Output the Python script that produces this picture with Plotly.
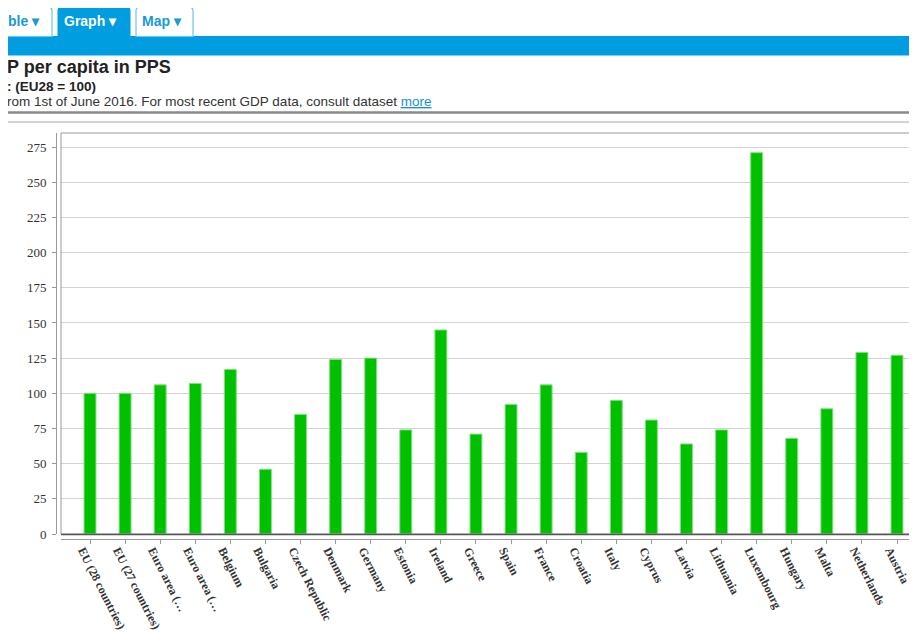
import plotly.graph_objects as go

# ---------------- data ----------------
categories = ["EU (28 countries)", "EU (27 countries)", "Euro area (…", "Euro area (…",
              "Belgium", "Bulgaria", "Czech Republic", "Denmark", "Germany", "Estonia",
              "Ireland", "Greece", "Spain", "France", "Croatia", "Italy", "Cyprus",
              "Latvia", "Lithuania", "Luxembourg", "Hungary", "Malta", "Netherlands", "Austria"]
values = [100, 100, 106, 107, 117, 46, 85, 124, 125, 74, 145, 71, 92, 106, 58, 95, 81,
          64, 74, 271, 68, 89, 129, 127]
y_ticks = [0, 25, 50, 75, 100, 125, 150, 175, 200, 225, 250, 275]

# ---------------- geometry helpers (screen pixels -> paper) ----------------
OFF = 8                      # page body margin
W, H = 917, 640 - OFF
L, R, T, B = 56 - OFF, 0, 133 - OFF, 101
PW, PH = W - L - R, H - T - B


def px(x):
    return (x - OFF - L) / PW


def py(y):
    return (H - B - (y - OFF)) / PH


BLUE = "#009de0"
TAB_BORDER = "#6cc6ee"

x_idx = list(range(len(categories)))

fig = go.Figure()
fig.add_trace(go.Bar(
    x=x_idx, y=values,
    width=0.34,
    marker=dict(color="#00c000", line=dict(color="#80e080", width=1)),
    hoverinfo="y",
))

shapes = []
# plot frame
shapes.append(dict(type="rect", xref="paper", yref="paper",
                   x0=px(61), x1=px(940), y0=py(534), y1=py(133),
                   line=dict(color="#999999", width=1), fillcolor="rgba(0,0,0,0)", layer="above"))
shapes.append(dict(type="line", xref="paper", yref="paper",
                   x0=px(61), x1=px(940), y0=py(534.5), y1=py(534.5),
                   line=dict(color="#555555", width=1.5), layer="above"))
# separators above chart
shapes.append(dict(type="line", xref="paper", yref="paper",
                   x0=px(0), x1=px(940), y0=py(112.5), y1=py(112.5),
                   line=dict(color="#8a8a8a", width=2.5)))
shapes.append(dict(type="line", xref="paper", yref="paper",
                   x0=px(0), x1=px(940), y0=py(122), y1=py(122),
                   line=dict(color="#a8a8a8", width=1)))
# blue band
shapes.append(dict(type="rect", xref="paper", yref="paper",
                   x0=px(0), x1=px(940), y0=py(55.5), y1=py(36),
                   line=dict(width=0), fillcolor=BLUE))


def tab_path(x0, x1, y0, y1, r=4):
    pts = [
        f"M {px(x0)},{py(y1)}",
        f"L {px(x0)},{py(y0 + r)}",
        f"Q {px(x0)},{py(y0)} {px(x0 + r)},{py(y0)}",
        f"L {px(x1 - r)},{py(y0)}",
        f"Q {px(x1)},{py(y0)} {px(x1)},{py(y0 + r)}",
        f"L {px(x1)},{py(y1)}",
    ]
    return " ".join(pts)


# "Table" tab (clipped on the left)
shapes.append(dict(type="path", xref="paper", yref="paper",
                   path=tab_path(-30, 52, 7, 36.5) + " Z",
                   line=dict(color=TAB_BORDER, width=1.2), fillcolor="white"))
# "Graph" tab (active)
shapes.append(dict(type="path", xref="paper", yref="paper",
                   path=tab_path(58, 130, 6, 37) + " Z",
                   line=dict(color=BLUE, width=1), fillcolor=BLUE))
# "Map" tab
shapes.append(dict(type="path", xref="paper", yref="paper",
                   path=tab_path(136, 193, 7, 36.5) + " Z",
                   line=dict(color=TAB_BORDER, width=1.2), fillcolor="white"))

SANS = "Arial, Liberation Sans, sans-serif"
annotations = []


def note(text, x, y, size, color="#333333", bold=False, xanchor="left"):
    annotations.append(dict(
        text=text, xref="paper", yref="paper", x=px(x), y=py(y),
        xanchor=xanchor, yanchor="middle", showarrow=False,
        font=dict(family=SANS, size=size, color=color, weight="bold" if bold else "normal"),
    ))


note("ble ▾", 6, 21, 14, color="#1a9ad6", bold=True)
note("Graph ▾", 62, 21, 14, color="white", bold=True)
note("Map ▾", 140, 21, 14, color="#1a9ad6", bold=True)
note("P per capita in PPS", 5, 67, 18, color="#222222", bold=True)
note(": (EU28 = 100)", 5, 86, 13.5, color="#222222", bold=True)
note("rom 1st of June 2016. For most recent GDP data, consult dataset "
     "<a href='#' style='color:#1a8fd0'><u>more</u></a>", 5, 101, 13.5, color="#333333")

SERIF = "Times New Roman, Liberation Serif, serif"
step = (897 - 90) / 23.0
x_lo = -(90 - 61) / step
x_hi = 23 + ((OFF + W) - 897) / step

fig.update_layout(
    width=W, height=H,
    margin=dict(l=L, r=R, t=T, b=B, pad=0),
    paper_bgcolor="white", plot_bgcolor="white",
    showlegend=False,
    shapes=shapes,
    annotations=annotations,
    xaxis=dict(
        domain=[px(61), 1], range=[x_lo, x_hi],
        anchor="free", position=0,
        tickmode="array", tickvals=x_idx, ticktext=categories,
        tickangle=63,
        tickfont=dict(family=SERIF, size=12, color="#333333", weight="bold"),
        ticklabelstandoff=-5,
        ticklabelshift=-7,
        ticklabeloverflow="allow",
        showline=True, linecolor="#999999", linewidth=1,
        ticks="outside", ticklen=4, tickcolor="#999999",
        showgrid=False, zeroline=False, fixedrange=True,
    ),
    yaxis=dict(
        domain=[py(534), 1], range=[0, 285],
        anchor="free", position=0,
        tickmode="array", tickvals=y_ticks,
        tickfont=dict(family=SERIF, size=13, color="#333333"),
        showline=True, linecolor="#999999", linewidth=1,
        ticks="outside", ticklen=4, tickcolor="#999999",
        ticklabelstandoff=3,
        showgrid=True, gridcolor="#d3d3d3", gridwidth=1,
        zeroline=False, fixedrange=True,
    ),
)

fig.write_html("out.html", config={"displayModeBar": False})
